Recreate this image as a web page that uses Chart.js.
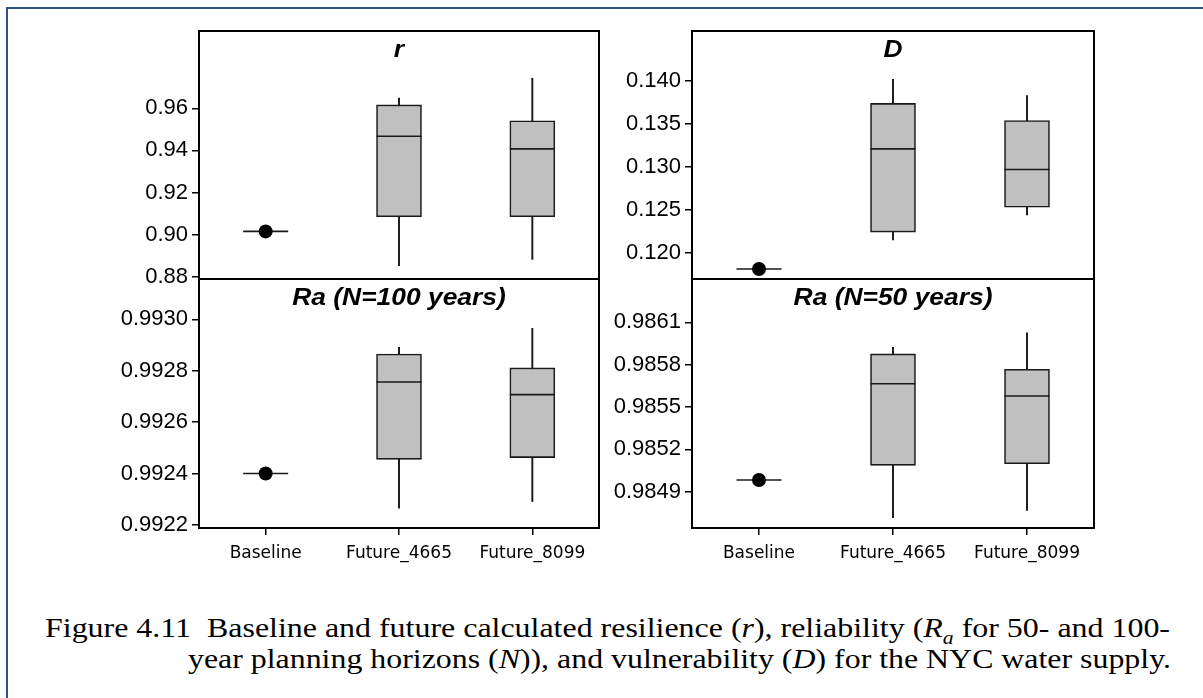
<!DOCTYPE html>
<html lang="en">
<head>
  <meta charset="UTF-8" />
  <title>Figure 4.11</title>
  <script src="https://cdn.jsdelivr.net/npm/chart.js"></script>
  <style>
    body {
      margin: 0;
      width: 1203px;
      height: 698px;
      background: #fff;
      position: relative;
      overflow: hidden;
    }
    #frame {
      position: absolute;
      left: 6px;
      top: 7px;
      width: 1220px;
      height: 720px;
      border-left: 2px solid #285588;
      border-top: 2px solid #285588;
    }
    canvas { position: absolute; }
    .cap {
      position: absolute;
      font-family: "Liberation Serif", "Times New Roman", serif;
      font-size: 28px;
      line-height: 28px;
      white-space: nowrap;
      color: #000;
      transform-origin: left top;
    }
  </style>
</head>
<body>
  <div id="frame"></div>
  <canvas id="pR"></canvas>
  <canvas id="pD"></canvas>
  <canvas id="pRa100"></canvas>
  <canvas id="pRa50"></canvas>
  <div class="cap" data-w="1125" style="left:45px; top:614px;">Figure 4.11&nbsp;&nbsp;Baseline and future calculated resilience (<i>r</i>), reliability (<i>R<sub style="font-size:19px;">a</sub></i> for 50- and 100-</div>
  <div class="cap" data-w="983" style="left:188px; top:645px;">year planning horizons (<i>N</i>)), and vulnerability (<i>D</i>) for the NYC water supply.</div>

  <script>
    const categories = ['Baseline', 'Future_4665', 'Future_8099'];

    // resilience r
    const rMin    = [0.9015, 0.8852, 0.8882];
    const rQ1     = [0.9015, 0.9085, 0.9085];
    const rMedian = [0.9015, 0.9467, 0.9407];
    const rQ3     = [0.9015, 0.9616, 0.9541];
    const rMax    = [0.9015, 0.9648, 0.9743];
    const rTicks  = [0.88, 0.90, 0.92, 0.94, 0.96];

    // vulnerability D
    const dMin    = [0.1181, 0.1215, 0.1244];
    const dQ1     = [0.1181, 0.1224, 0.1253];
    const dMedian = [0.1181, 0.1321, 0.1297];
    const dQ3     = [0.1181, 0.1374, 0.1354];
    const dMax    = [0.1181, 0.1402, 0.1383];
    const dTicks  = [0.120, 0.125, 0.130, 0.135, 0.140];

    // reliability Ra, N = 100 years
    const ra100Min    = [0.99240, 0.992265, 0.992291];
    const ra100Q1     = [0.99240, 0.992455, 0.992462];
    const ra100Median = [0.99240, 0.992756, 0.992707];
    const ra100Q3     = [0.99240, 0.992865, 0.992811];
    const ra100Max    = [0.99240, 0.992891, 0.992965];
    const ra100Ticks  = [0.9922, 0.9924, 0.9926, 0.9928, 0.9930];

    // reliability Ra, N = 50 years
    const ra50Min    = [0.984983, 0.984716, 0.984768];
    const ra50Q1     = [0.984983, 0.985087, 0.985098];
    const ra50Median = [0.984983, 0.985665, 0.985578];
    const ra50Q3     = [0.984983, 0.985876, 0.985767];
    const ra50Max    = [0.984983, 0.985923, 0.986026];
    const ra50Ticks  = [0.9849, 0.9852, 0.9855, 0.9858, 0.9861];

    const PAD = { top: 20, right: 10, bottom: 20, left: 0 };
    const Y_W = 100;
    const X_H = 40;

    // box outline + title inside the top strip
    const framePlugin = {
      id: 'frame',
      afterDatasetsDraw(chart, args, opts) {
        const { ctx, chartArea: a } = chart;
        ctx.save();
        ctx.strokeStyle = '#000';
        ctx.lineWidth = 2;
        ctx.strokeRect(a.left, a.top, a.right - a.left, a.bottom - a.top);
        ctx.font = 'italic bold 24px "Liberation Sans", Arial, sans-serif';
        ctx.textAlign = 'center';
        ctx.textBaseline = 'alphabetic';
        ctx.fillStyle = '#000';
        ctx.translate((a.left + a.right) / 2, a.top + 26);
        ctx.scale(1.1, 1);
        ctx.fillText(opts.text, 0, 0);
        ctx.restore();
      }
    };

    function makePanel(id, box, title, min, q1, median, q3, max, ticks, dec, yMin, yMax, showX) {
      const xH = showX ? X_H : 0;
      const cv = document.getElementById(id);
      const w = PAD.left + Y_W + (box.right - box.left) + PAD.right;
      const h = PAD.top + (box.bottom - box.top) + xH + PAD.bottom;
      cv.style.left = (box.left - Y_W - PAD.left) + 'px';
      cv.style.top = (box.top - PAD.top) + 'px';
      cv.width = w;
      cv.height = h;

      // a single value (no spread) gets a dot
      const dots = median.map((m, i) => (min[i] === max[i] ? m : null));

      new Chart(cv, {
        type: 'bar',
        data: {
          labels: categories,
          datasets: [
            {
              type: 'line', data: dots, showLine: false,
              pointStyle: 'circle', pointRadius: 7, pointBackgroundColor: '#000',
              pointBorderWidth: 0, order: 0
            },
            {
              type: 'line', data: median, showLine: false,
              pointStyle: 'line', pointRadius: 22.5, pointBorderColor: '#1a1a1a',
              pointBorderWidth: 1.6, order: 1
            },
            {
              data: q1.map((v, i) => [v, q3[i]]),
              backgroundColor: '#c0c0c0', borderColor: '#1a1a1a', borderWidth: 1.6,
              borderSkipped: false, barThickness: 45, grouped: false, order: 2
            },
            {
              data: min.map((v, i) => [v, max[i]]),
              backgroundColor: '#1a1a1a', barThickness: 1.3, grouped: false, order: 3
            }
          ]
        },
        options: {
          responsive: false,
          animation: false,
          events: [],
          layout: { padding: PAD, autoPadding: false },
          plugins: {
            legend: { display: false },
            tooltip: { enabled: false },
            frame: { text: title }
          },
          scales: {
            x: showX ? {
              offset: true,
              afterFit: sc => { sc.height = X_H; },
              ticks: {
                font: { family: 'DejaVu Sans', size: 17 }, color: '#000',
                padding: 8, maxRotation: 0, autoSkip: false
              },
              grid: {
                display: true, offset: false, drawOnChartArea: false, drawTicks: true,
                tickLength: 7, color: '#000', lineWidth: 1.5
              },
              border: { display: false }
            } : { display: false, offset: true },
            y: {
              min: yMin,
              max: yMax,
              afterFit: sc => { sc.width = Y_W; },
              afterBuildTicks: sc => { sc.ticks = ticks.map(v => ({ value: v })); },
              ticks: {
                font: { family: 'Liberation Sans', size: 22 }, color: '#000', padding: 4,
                callback: v => v.toFixed(dec)
              },
              grid: {
                display: true, drawOnChartArea: false, drawTicks: true,
                tickLength: 7, color: '#000', lineWidth: 1.5
              },
              border: { display: false }
            }
          }
        },
        plugins: [framePlugin]
      });
    }

    makePanel('pR', { left: 199, top: 31, right: 599, bottom: 279 }, 'r',
      rMin, rQ1, rMedian, rQ3, rMax, rTicks, 2, 0.87887, 0.99674, false);
    makePanel('pD', { left: 692, top: 31, right: 1094, bottom: 279 }, 'D',
      dMin, dQ1, dMedian, dQ3, dMax, dTicks, 3, 0.11694, 0.14583, false);
    makePanel('pRa100', { left: 199, top: 279, right: 599, bottom: 528 }, 'Ra (N=100 years)',
      ra100Min, ra100Q1, ra100Median, ra100Q3, ra100Max, ra100Ticks, 4, 0.992188, 0.993157, true);
    makePanel('pRa50', { left: 692, top: 279, right: 1094, bottom: 528 }, 'Ra (N=50 years)',
      ra50Min, ra50Q1, ra50Median, ra50Q3, ra50Max, ra50Ticks, 4, 0.984643, 0.986407, true);

    // stretch the caption lines to the widths they take in the figure
    document.querySelectorAll('.cap').forEach(el => {
      const target = +el.dataset.w;
      el.style.transform = 'scaleX(' + (target / el.getBoundingClientRect().width) + ')';
    });
  </script>
</body>
</html>
